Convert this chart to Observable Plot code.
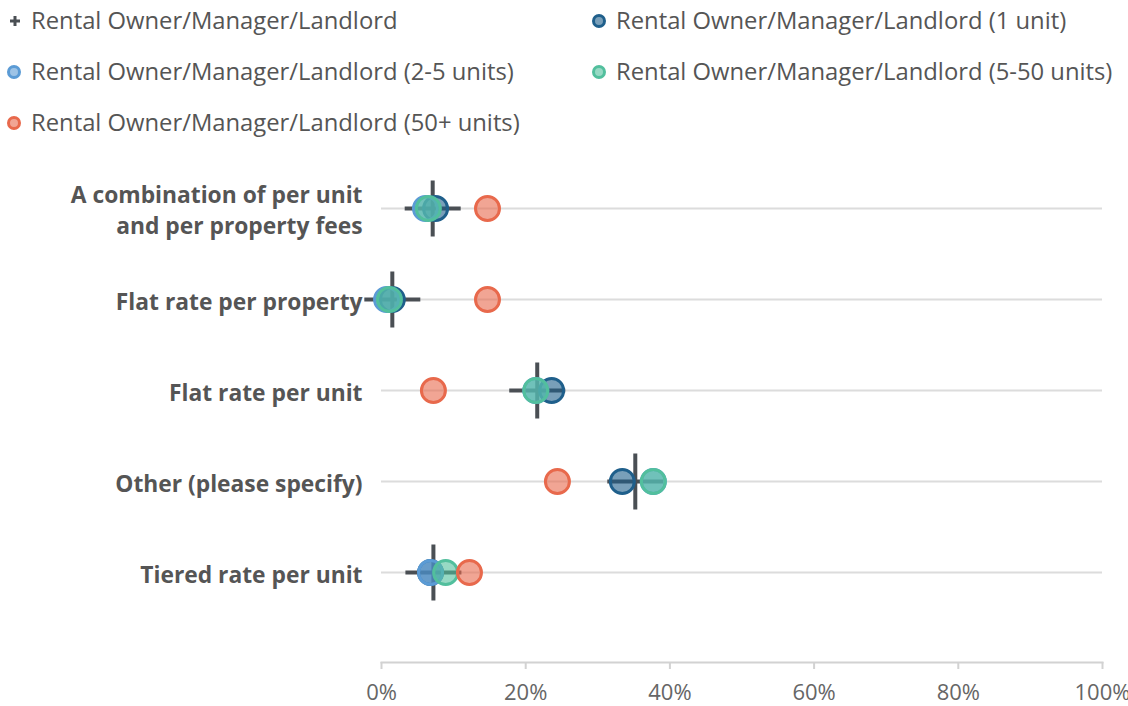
<!DOCTYPE html>
<html>
<head>
<meta charset="utf-8">
<script src="https://cdn.jsdelivr.net/npm/d3@7"></script>
<script src="https://cdn.jsdelivr.net/npm/@observablehq/plot@0.6"></script>
<style>
  html, body { margin: 0; padding: 0; background: #fff; }
  body { width: 1128px; height: 706px; overflow: hidden; font-family: "Open Sans", sans-serif; }
  #legend { position: relative; height: 150px; }
  .item { position: absolute; display: flex; align-items: center; font-size: 23.8px; color: #555; white-space: nowrap; line-height: 1; }
  .item svg { margin-right: 1px; flex: none; }
  #chart svg { display: block; }
</style>
</head>
<body>
<div id="legend"></div>
<div id="chart"></div>
<script>
const categories = [
  "A combination of per unit and per property fees",
  "Flat rate per property",
  "Flat rate per unit",
  "Other (please specify)",
  "Tiered rate per unit"
];
const categoryLabels = [
  "A combination of per unit\nand per property fees",
  "Flat rate per property",
  "Flat rate per unit",
  "Other (please specify)",
  "Tiered rate per unit"
];
const seriesNames = [
  "Rental Owner/Manager/Landlord",
  "Rental Owner/Manager/Landlord (1 unit)",
  "Rental Owner/Manager/Landlord (2-5 units)",
  "Rental Owner/Manager/Landlord (5-50 units)",
  "Rental Owner/Manager/Landlord (50+ units)"
];
const seriesColors = ["#4a4f54", "#1f5f8b", "#5b9bd5", "#52bf9d", "#e8694c"];
const overall     = [7.1, 1.5, 21.6, 35.2, 7.2];
const oneUnit     = [7.5, 1.5, 23.6, 33.4, 6.8];
const twoToFive   = [6.1, 0.7, 21.4, 37.7, 6.8];
const fiveToFifty = [6.5, 1.1, 21.4, 37.7, 8.9];
const fiftyPlus   = [14.7, 14.7, 7.2, 24.4, 12.2];
const xTicks = [0, 20, 40, 60, 80, 100];

// legend
const legend = document.getElementById("legend");
const legendPos = [[6, 21], [591, 21], [6, 72], [591, 72], [6, 123]];
seriesNames.forEach((name, i) => {
  const div = document.createElement("div");
  div.className = "item";
  div.style.left = legendPos[i][0] + "px";
  div.style.top = (legendPos[i][1] - 13) + "px";
  div.style.height = "26px";
  let sw;
  if (i === 0) {
    sw = `<svg width="24" height="16"><path d="M4,8H14M9,3V13" stroke="${seriesColors[0]}" stroke-width="3"/></svg>`;
  } else {
    sw = `<svg width="24" height="16"><circle cx="8" cy="8" r="5.5" fill="${seriesColors[i]}" fill-opacity="0.6" stroke="${seriesColors[i]}" stroke-width="3"/></svg>`;
  }
  div.innerHTML = sw + `<span>${name}</span>`;
  legend.appendChild(div);
});

const seriesValues = [overall, oneUnit, twoToFive, fiveToFifty, fiftyPlus];
const rows = [];
seriesValues.forEach((vals, s) => {
  vals.forEach((v, c) => rows.push({series: seriesNames[s], category: categories[c], value: v, order: s}));
});

const crossSymbol = {
  draw(context, size) {
    const r = Math.sqrt(size / Math.PI);
    context.moveTo(-r, 0); context.lineTo(r, 0);
    context.moveTo(0, -r); context.lineTo(0, r);
  }
};

const chart = Plot.plot({
  width: 1128,
  height: 556,
  marginLeft: 381,
  marginRight: 26,
  marginTop: 12,
  marginBottom: 44,
  style: {fontFamily: "Open Sans", background: "#fff"},
  x: {domain: [0, 100], axis: null, label: null},
  y: {type: "point", domain: categories, padding: 0.5, insetBottom: 45, axis: null},
  color: {domain: seriesNames, range: seriesColors},
  marks: [
    Plot.ruleY(categories, {y: d => d, stroke: "#dcdcdc", strokeWidth: 2}),
    Plot.frame({anchor: "bottom", stroke: "#d2d2d2", strokeWidth: 2}),
    Plot.axisX({ticks: xTicks, tickFormat: d => d + "%", label: null, tickSize: 7, tickPadding: 15, stroke: "#d2d2d2", strokeWidth: 2, fontSize: 22, color: "#666"}),
    Plot.text(categories, {y: d => d, frameAnchor: "left", dx: -19, textAnchor: "end",
      text: (d, i) => categoryLabels[i], fontSize: 22.8, fontWeight: "bold", fill: "#555", lineHeight: 1.38}),
    Plot.dot(rows.filter(d => d.order === 0), {x: "value", y: "category", symbol: crossSymbol, r: 28,
      fill: "none", stroke: seriesColors[0], strokeWidth: 4}),
    Plot.dot(rows.filter(d => d.order > 0), {x: "value", y: "category", r: 12,
      fill: "series", fillOpacity: 0.6, stroke: "series", strokeWidth: 3})
  ]
});
document.getElementById("chart").appendChild(chart);
</script>
</body>
</html>
